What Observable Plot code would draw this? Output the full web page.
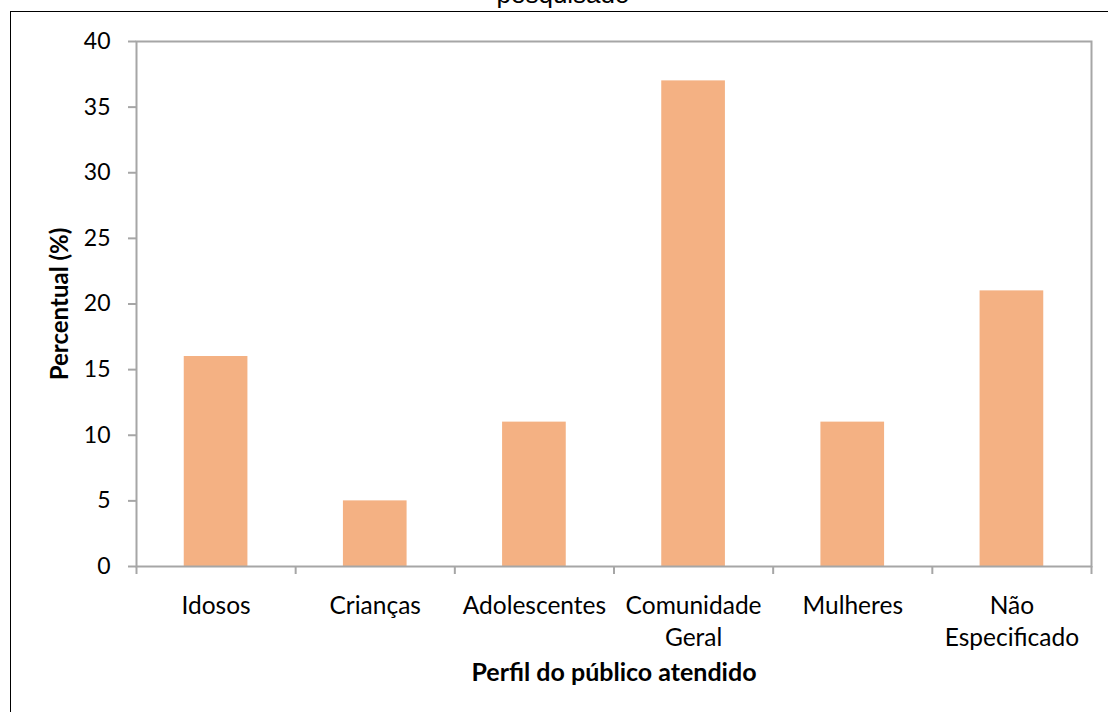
<!DOCTYPE html>
<html>
<head>
<meta charset="utf-8">
<script src="https://cdn.jsdelivr.net/npm/d3@7"></script>
<script src="https://cdn.jsdelivr.net/npm/@observablehq/plot@0.6"></script>
<style>
  html, body { margin: 0; padding: 0; background: #fff; }
  #wrap { position: relative; width: 1108px; height: 712px; overflow: hidden; }
  #border { position: absolute; left: 10px; top: 11px; width: 1120px; height: 760px; border: 1px solid #000; box-sizing: border-box; }
  #title { position: absolute; left: 0; width: 1126px; top: -21px; text-align: center; font-family: "Liberation Sans", Arial, sans-serif; font-size: 26px; color: #000; line-height: 30px; }
  #chart { position: absolute; left: 0; top: 0; }
  #chart svg { overflow: visible; }
</style>
</head>
<body>
<div id="wrap">
  <div id="border"></div>
  <div id="title">pesquisado</div>
  <div id="chart"></div>
</div>
<script>
const categories = ["Idosos", "Crianças", "Adolescentes", "Comunidade\nGeral", "Mulheres", "Não\nEspecificado"];
const values = [16, 5, 11, 37, 11, 21];
const yTicks = [0, 5, 10, 15, 20, 25, 30, 35, 40];
const yLabel = "Percentual (%)";
const xLabel = "Perfil do público atendido";

const data = categories.map((c, i) => ({i, c, v: values[i]}));
const centers = categories.map((c, i) => i);
const bounds = d3.range(-0.5, categories.length, 1);

const gray = "#A6A6A6";
const font = "Lato, 'Open Sans', sans-serif";

const plot = Plot.plot({
  width: 1108,
  height: 712,
  marginLeft: 136,
  marginRight: 17,
  marginTop: 41,
  marginBottom: 146,
  style: {fontFamily: font, background: "transparent", color: "#000"},
  x: {domain: [-0.5, categories.length - 0.5], axis: null},
  y: {domain: [0, 40], axis: null},
  marks: [
    Plot.rectY(data, {x1: d => d.i - 0.2, x2: d => d.i + 0.2, y: "v", fill: "#F4B183"}),
    Plot.frame({stroke: gray, strokeWidth: 2}),
    Plot.axisY({ticks: yTicks, tickSize: 8, tickPadding: 18, stroke: gray, strokeWidth: 2, fill: "#000", fontSize: 23, label: null}),
    Plot.axisX({ticks: bounds, tickSize: 8, tickFormat: () => "", stroke: gray, strokeWidth: 2, label: null}),
    Plot.axisX({ticks: centers, tickSize: 0, tickPadding: 25, tickFormat: i => categories[i], fill: "#000", fontSize: 24.5, lineHeight: 1.31, label: null}),
    Plot.text([yLabel], {text: d => d, frameAnchor: "left", textAnchor: "middle", dx: -76, rotate: -90, fontSize: 24, fontWeight: "bold", fill: "#000", lineAnchor: "middle"}),
    Plot.text([xLabel], {text: d => d, frameAnchor: "bottom", textAnchor: "middle", dy: 106, fontSize: 25, fontWeight: "bold", fill: "#000", lineAnchor: "middle"})
  ]
});
document.getElementById("chart").appendChild(plot);
</script>
</body>
</html>
